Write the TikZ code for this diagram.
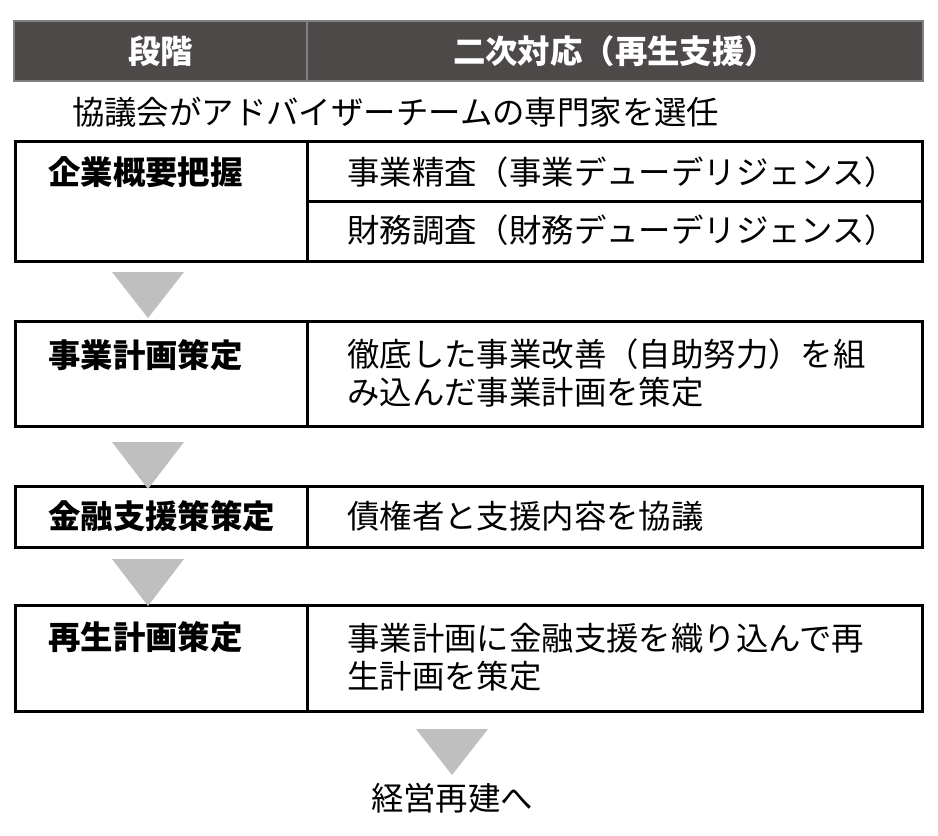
\documentclass[tikz,border=0pt]{standalone}
\usepackage{fontspec}
\setmainfont{Noto Sans CJK JP}
\usetikzlibrary{calc}

\definecolor{headgray}{HTML}{4D4948}
\definecolor{headline}{HTML}{808080}
\definecolor{arrowgray}{HTML}{BFBFBF}

\tikzset{
    cell/.style={draw,line width=3pt,inner sep=0pt,anchor=north west},
    headcell/.style={draw=headline,fill=headgray,line width=2pt,inner sep=0pt,anchor=north west},
    headtext/.style={text=white,font=\fontsize{32.4}{38}\selectfont\bfseries,inner sep=0pt},
    stagetext/.style={anchor=west,font=\fontsize{32.4}{38}\selectfont\bfseries,inner sep=0pt},
    worktext/.style={anchor=west,align=left,font=\fontsize{32.4}{38}\selectfont,inner sep=0pt},
    arrowfill/.style={fill=arrowgray}
}

\begin{document}
\begin{tikzpicture}[x=1pt,y=-1pt]
        \useasboundingbox (0,0) rectangle (938,836);

        % header
        \node[headcell,minimum width=293pt,minimum height=60pt] (headL) at (13,20) {};
        \node[headcell,minimum width=616pt,minimum height=60pt] (headR) at (306,20) {};
        \node[headtext] (stage) at (headL.center) {段階};
        \node[headtext] (support) at (headR.center) {二次対応（再生支援）};

        \node[worktext] (council) at (72,112) {協議会がアドバイザーチームの専門家を選任};

        % rows
        \node[cell,minimum width=292pt,minimum height=120pt] (row1L) at (14,140) {};
        \node[cell,minimum width=615pt,minimum height=60pt] (row1R) at (306,140) {};
        \node[cell,minimum width=615pt,minimum height=60pt] (row1S) at (306,200) {};
        \node[stagetext] (grasp) at (48,172) {企業概要把握};
        \node[worktext] (bizdd) at (347,172) {事業精査（事業デューデリジェンス）};
        \node[worktext] (findd) at (347,230) {財務調査（財務デューデリジェンス）};

        \node[cell,minimum width=292pt,minimum height=105pt] (row2L) at (14,320) {};
        \node[cell,minimum width=615pt,minimum height=105pt] (row2R) at (306,320) {};
        \node[stagetext] (bizplan) at (48,355) {事業計画策定};
        \node[worktext] (improve) at (347,373) {徹底した事業改善（自助努力）を組\\み込んだ事業計画を策定};

        \node[cell,minimum width=292pt,minimum height=61pt] (row3L) at (14,485) {};
        \node[cell,minimum width=615pt,minimum height=61pt] (row3R) at (306,485) {};
        \node[stagetext] (finplan) at (48,516) {金融支援策策定};
        \node[worktext] (creditor) at (347,516) {債権者と支援内容を協議};

        \node[cell,minimum width=292pt,minimum height=106pt] (row4L) at (14,604) {};
        \node[cell,minimum width=615pt,minimum height=106pt] (row4R) at (306,604) {};
        \node[stagetext] (revplan) at (48,637) {再生計画策定};
        \node[worktext] (weave) at (347,657) {事業計画に金融支援を織り込んで再\\生計画を策定};

        \node[inner sep=0pt,font=\fontsize{32.4}{38}\selectfont] (rebuild) at (452,798) {経営再建へ};

        % arrows
        \fill[arrowfill] ($(row1L.south west)+(98,9)$) -- ++(72,0) -- ++(-36,46) -- cycle;
        \fill[arrowfill] ($(row2L.south west)+(98,14)$) -- ++(72,0) -- ++(-36,47) -- cycle;
        \fill[arrowfill] ($(row3L.south west)+(98,10)$) -- ++(72,0) -- ++(-36,47) -- cycle;
        \fill[arrowfill] ($(row4L.south west)+(402,16)$) -- ++(72,0) -- ++(-36,46) -- cycle;
\end{tikzpicture}
\end{document}
